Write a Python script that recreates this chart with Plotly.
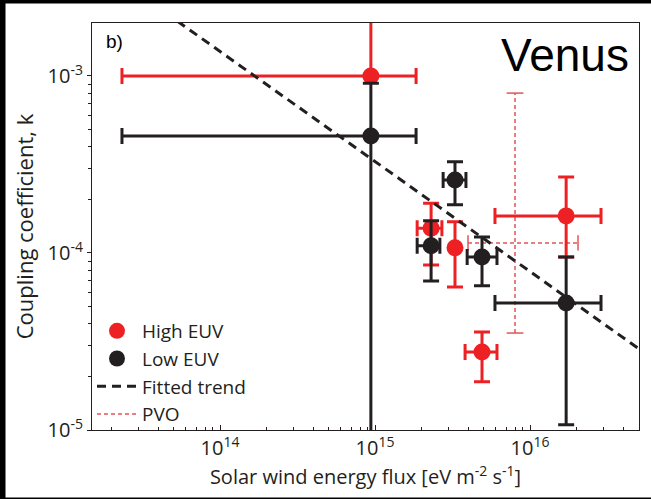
import plotly.graph_objects as go

# ---------------- data ----------------
high_x    = [9.4e14, 2.30e15, 3.28e15, 4.90e15, 1.71e16]
high_k    = [1.0e-3, 1.38e-4, 1.07e-4, 2.76e-5, 1.62e-4]
high_x_lo = [2.33e13, 1.87e15, 3.28e15, 3.81e15, 5.94e15]
high_x_hi = [1.84e15, 2.70e15, 3.28e15, 6.12e15, 2.87e16]
high_k_lo = [1.0e-3, 8.55e-5, 6.43e-5, 1.87e-5, 9.5e-5]
high_k_hi = [3.0e-3, 1.91e-4, 1.50e-4, 3.58e-5, 2.69e-4]

low_x    = [9.4e14, 3.28e15, 2.30e15, 4.90e15, 1.71e16]
low_k    = [4.58e-4, 2.58e-4, 1.10e-4, 9.48e-5, 5.22e-5]
low_x_lo = [2.33e13, 2.75e15, 1.87e15, 3.93e15, 5.94e15]
low_x_hi = [1.84e15, 3.86e15, 2.62e15, 6.12e15, 2.87e16]
low_k_lo = [5.0e-6, 1.87e-4, 6.95e-5, 6.52e-5, 1.07e-5]
low_k_hi = [9.1e-4, 3.27e-4, 1.52e-4, 1.23e-4, 9.48e-5]

pvo_x, pvo_k = 8.0e15, 1.14e-4
pvo_x_lo, pvo_x_hi = 3.98e15, 2.04e16
pvo_k_lo, pvo_k_hi = 3.53e-5, 8.0e-4

trend_x = [1.49e13, 5.05e16]
trend_k = [4.49e-3, 2.87e-5]

x_tickvals = [1e14, 1e15, 1e16]
x_ticktext = ["10<sup>14</sup>", "10<sup>15</sup>", "10<sup>16</sup>"]
y_tickvals = [1e-5, 1e-4, 1e-3]
y_ticktext = ["10<sup>-5</sup>", "10<sup>-4</sup>", "10<sup>-3</sup>"]

RED = "#ed2024"
BLACK = "#231f20"
PVO_RED = "#e0555a"
FONT = "Open Sans"
FS = 20

fig = go.Figure()

# PVO dashed cross
fig.add_trace(go.Scatter(
    x=[pvo_x_lo, pvo_x_hi, None, pvo_x, pvo_x],
    y=[pvo_k, pvo_k, None, pvo_k_lo, pvo_k_hi],
    mode="lines", line=dict(color=PVO_RED, width=1.5, dash="4px,3px"),
    name="PVO", legendrank=4, showlegend=True, hoverinfo="skip"))
fig.add_trace(go.Scatter(
    x=[pvo_x_lo, pvo_x_hi], y=[pvo_k, pvo_k], mode="markers",
    marker=dict(symbol="line-ns", size=11, line=dict(color=PVO_RED, width=1.5)),
    showlegend=False, hoverinfo="skip"))
fig.add_trace(go.Scatter(
    x=[pvo_x, pvo_x], y=[pvo_k_lo, pvo_k_hi], mode="markers",
    marker=dict(symbol="line-ew", size=12, line=dict(color=PVO_RED, width=1.5)),
    showlegend=False, hoverinfo="skip"))


def add_points(xs, ks, xlo, xhi, klo, khi, color, name, rank):
    for i in range(len(xs)):
        has_x = (xhi[i] > xs[i]) or (xlo[i] < xs[i])
        fig.add_trace(go.Scatter(
            x=[xs[i]], y=[ks[i]], mode="markers",
            marker=dict(color=color, size=17),
            error_x=dict(type="data", symmetric=False, visible=has_x,
                         array=[xhi[i] - xs[i]], arrayminus=[xs[i] - xlo[i]],
                         color=color, thickness=3, width=8),
            error_y=dict(type="data", symmetric=False, visible=True,
                         array=[khi[i] - ks[i]], arrayminus=[ks[i] - klo[i]],
                         color=color, thickness=3, width=8),
            name=name, legendgroup=name, legendrank=rank,
            showlegend=(i == 0)))


add_points(high_x, high_k, high_x_lo, high_x_hi, high_k_lo, high_k_hi, RED, "High EUV", 1)
add_points(low_x, low_k, low_x_lo, low_x_hi, low_k_lo, low_k_hi, BLACK, "Low EUV", 2)

fig.add_trace(go.Scatter(
    x=trend_x, y=trend_k, mode="lines",
    line=dict(color=BLACK, width=3, dash="9px,6px"),
    name="Fitted trend", legendrank=3))

# black frame strips of the original picture
strips = [
    dict(xanchor=0, x0=-100, x1=-86.5, yanchor=0, y0=-80, y1=520),
    dict(xanchor=0, x0=-100, x1=700, yanchor=1, y0=19.5, y1=40),
    dict(xanchor=0, x0=-100, x1=700, yanchor=0, y0=-80, y1=-67.5),
]
shapes = []
for s in strips:
    shapes.append(dict(type="rect", xref="paper", yref="paper",
                       xsizemode="pixel", ysizemode="pixel",
                       fillcolor="black", line=dict(width=0), layer="above", **s))

fig.update_layout(
    width=651, height=499,
    margin=dict(l=92, r=12, t=23, b=69),
    paper_bgcolor="white", plot_bgcolor="white",
    font=dict(family=FONT, color=BLACK, size=FS),
    shapes=shapes,
    showlegend=True,
    legend=dict(x=0.0, y=0.29, xanchor="left", yanchor="top",
                bgcolor="rgba(0,0,0,0)", font=dict(size=19, family=FONT),
                tracegroupgap=0, itemwidth=40),
    annotations=[
        dict(text="Venus", xref="paper", yref="paper", x=0.985, y=0.99,
             xanchor="right", yanchor="top", showarrow=False,
             font=dict(family="Liberation Sans", size=46, color="black")),
        dict(text="b)", xref="paper", yref="paper", x=0.022, y=0.985,
             xanchor="left", yanchor="top", showarrow=False,
             font=dict(family="Liberation Sans", size=19, color="black")),
    ],
)

fig.update_xaxes(
    type="log", range=[13.174, 16.703],
    tickvals=x_tickvals, ticktext=x_ticktext,
    ticks="inside", ticklen=5, tickwidth=1, tickcolor=BLACK,
    minor=dict(ticks="inside", ticklen=3, tickwidth=1, tickcolor=BLACK, dtick="D1", showgrid=False),
    showline=True, linecolor=BLACK, linewidth=1.2, mirror=True,
    showgrid=False, zeroline=False,
    tickfont=dict(size=FS, family=FONT),
    title=dict(text="Solar wind energy flux [eV m<sup>-2</sup> s<sup>-1</sup>]",
               font=dict(size=FS, family=FONT), standoff=6),
)
fig.update_yaxes(
    type="log", range=[-5, -2.701],
    tickvals=y_tickvals, ticktext=y_ticktext,
    ticks="outside", ticklen=4, tickwidth=1, tickcolor=BLACK,
    minor=dict(ticks="outside", ticklen=3, tickwidth=1, tickcolor=BLACK, dtick="D1", showgrid=False),
    showline=True, linecolor=BLACK, linewidth=1.2, mirror=True,
    showgrid=False, zeroline=False,
    tickfont=dict(size=FS, family=FONT),
    title=dict(text="Coupling coefficient, k", font=dict(size=22, family=FONT), standoff=7),
)

fig.write_html("out.html")
